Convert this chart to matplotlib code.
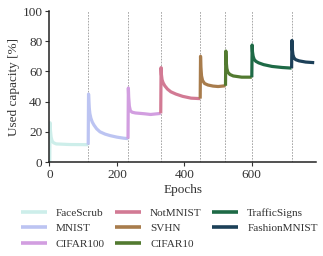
import matplotlib
matplotlib.use("Agg")
import matplotlib.pyplot as plt

plt.rcParams['font.family'] = ['Liberation Serif', 'DejaVu Serif']

# Task names and colours
tasks = ['FaceScrub', 'MNIST', 'CIFAR100', 'NotMNIST', 'SVHN', 'CIFAR10',
         'TrafficSigns', 'FashionMNIST']
colors = ['#cdeeea', '#bcc4f2', '#d29ee0', '#d27a94', '#a87c4c', '#527a30',
          '#1e6a46', '#1c4058']

# Epochs at which a new task starts (dashed lines)
boundaries = [115, 233, 330, 447, 522, 600, 718]

# Used capacity per task
epochs_per_task = [
    [0, 1, 2, 3, 5, 8, 12, 20, 60, 115],
    [115, 116, 117, 118, 120, 123, 127, 132, 140, 150, 165, 180, 200, 220, 233],
    [233, 234, 235, 237, 240, 245, 255, 280, 300, 330],
    [330, 331, 332, 334, 337, 342, 350, 360, 375, 395, 420, 447],
    [447, 448, 449, 451, 454, 460, 470, 485, 500, 522],
    [522, 523, 524, 526, 529, 535, 545, 570, 600],
    [600, 601, 602, 604, 607, 612, 620, 635, 660, 690, 718],
    [718, 719, 720, 722, 725, 730, 740, 760, 785],
]
capacity_per_task = [
    [0.0, 0.0, 26.0, 21.0, 16.5, 14.0, 12.8, 12.0, 11.6, 11.5],
    [11.5, 45.0, 40.0, 36.0, 32.0, 29.0, 26.5, 24.5, 22.0, 20.0, 18.5, 17.5,
     16.5, 15.8, 15.5],
    [15.5, 49.0, 43.0, 37.0, 34.0, 33.0, 32.5, 32.0, 31.5, 32.2],
    [32.2, 62.5, 58.0, 54.5, 52.5, 50.5, 48.3, 46.5, 45.0, 43.5, 42.3, 42.0],
    [42.0, 70.0, 63.0, 57.0, 54.0, 52.0, 51.0, 50.3, 50.0, 50.5],
    [50.5, 73.5, 67.0, 62.0, 59.5, 58.0, 57.0, 56.2, 56.2],
    [56.2, 77.5, 73.0, 70.0, 68.0, 66.7, 65.7, 64.5, 63.3, 62.6, 62.2],
    [62.2, 80.5, 75.0, 71.0, 69.0, 67.8, 67.0, 66.2, 65.8],
]

fig = plt.figure(figsize=(3.23, 2.56), dpi=100)
ax = fig.add_axes([0.153, 0.367, 0.825, 0.59])

for b in boundaries:
    ax.axvline(b, color='#9a9a9a', linestyle=(0, (2, 1.5)), linewidth=0.6, zorder=1)

for name, col, xs, ys in zip(tasks, colors, epochs_per_task, capacity_per_task):
    ax.plot(xs, ys, color=col, linewidth=2.3, label=name, zorder=2,
            solid_joinstyle='round', solid_capstyle='butt')

ax.set_xlim(0, 790)
ax.set_ylim(0, 100)
ax.set_xticks([0, 200, 400, 600])
ax.set_yticks([0, 20, 40, 60, 80, 100])
ax.set_xlabel('Epochs', fontsize=9.5, color='#333333', labelpad=2)
ax.set_ylabel('Used capacity [%]', fontsize=9.5, color='#333333', labelpad=2)
ax.tick_params(labelsize=9.5, colors='#333333', length=3, width=0.8, pad=2)
for s in ['top', 'right']:
    ax.spines[s].set_visible(False)
for s in ['left', 'bottom']:
    ax.spines[s].set_linewidth(1.1)
    ax.spines[s].set_color('#222222')

leg = fig.legend(loc='upper left', bbox_to_anchor=(0.05, 0.205), ncol=3,
                 frameon=False, fontsize=8.1, handlelength=2.3, handletextpad=0.8,
                 columnspacing=0.95, labelspacing=0.5, borderaxespad=0)
for line in leg.get_lines():
    line.set_linewidth(2.6)
for t in leg.get_texts():
    t.set_color('#333333')

fig.savefig('out.png', dpi=100)
